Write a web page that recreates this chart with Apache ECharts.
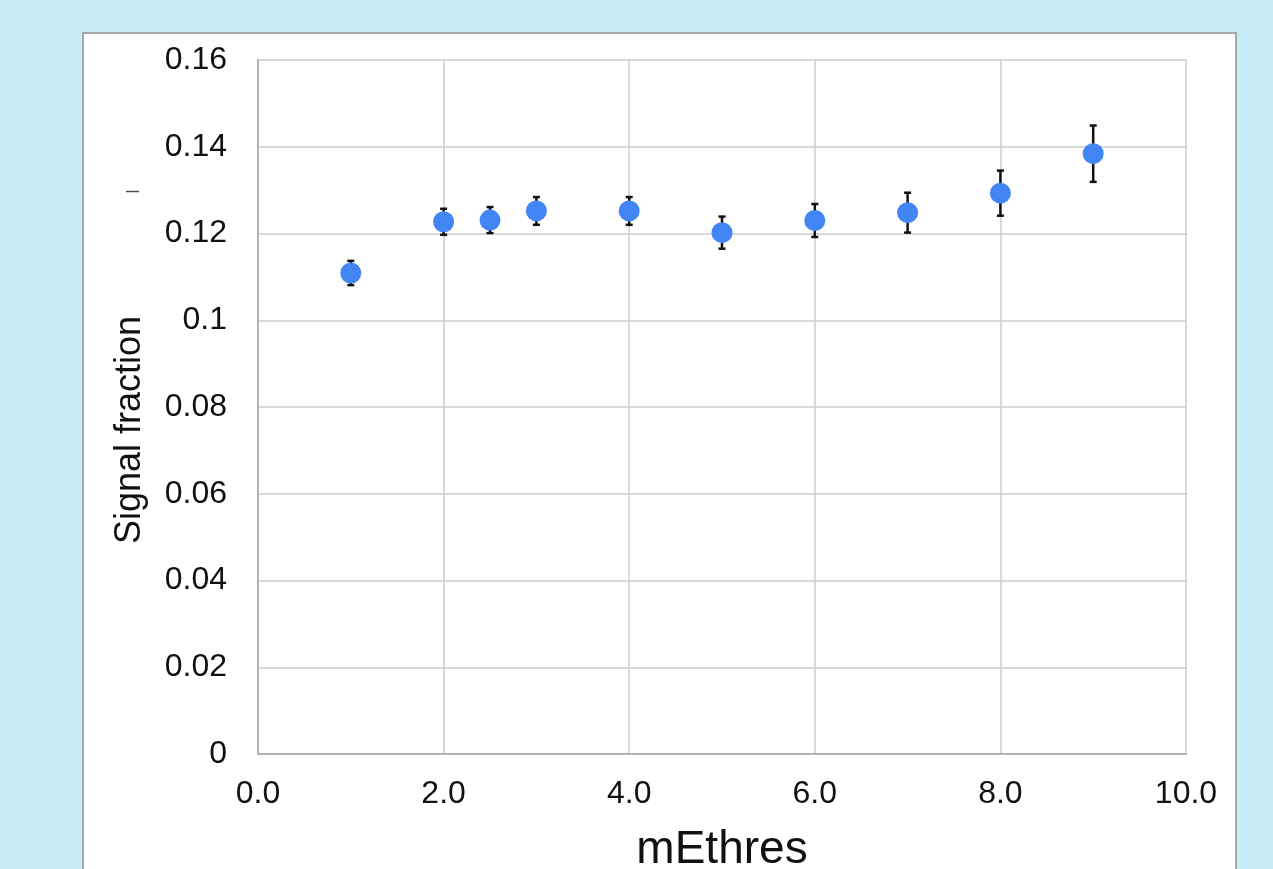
<!DOCTYPE html>
<html>
<head>
<meta charset="utf-8">
<title>Signal fraction vs mEthres</title>
<script src="https://cdn.jsdelivr.net/npm/echarts@6/dist/echarts.min.js"></script>
<style>
  html, body { margin: 0; padding: 0; background: #c8ecf5; }
  #chart { width: 1273px; height: 869px; }
</style>
</head>
<body>
<div id="chart"></div>
<script>
// data
const mEthres = [1, 2, 2.5, 3, 4, 5, 6, 7, 8, 9]
const signalFraction = [0.1109, 0.1227, 0.1231, 0.1252, 0.1252, 0.1202, 0.1230, 0.1248, 0.1293, 0.1384]
const fractionError = [0.0028, 0.0030, 0.0030, 0.0032, 0.0032, 0.0037, 0.0038, 0.0046, 0.0052, 0.0065]
const xTicks = { min: 0, max: 10, interval: 2 }
const yTicks = { min: 0, max: 0.16, interval: 0.02 }

const chart = echarts.init(document.getElementById('chart'))

const points = mEthres.map((x, i) => [x, signalFraction[i]])
const bars = mEthres.map((x, i) => [x, signalFraction[i] - fractionError[i], signalFraction[i] + fractionError[i]])

const labelFont = 'Liberation Sans, Arial, sans-serif'

const option = {
  backgroundColor: '#c8ecf5',
  animation: false,
  graphic: [
    {
      type: 'rect',
      z: -10,
      shape: { x: 83, y: 33, width: 1153, height: 860 },
      style: { fill: '#ffffff', stroke: '#a6a6a6', lineWidth: 2 }
    },
    {
      // small stray stroke left of the axis in the original
      type: 'line',
      z: -5,
      shape: { x1: 126, y1: 191.5, x2: 139, y2: 191.5 },
      style: { stroke: '#222', lineWidth: 1.5, opacity: 0.8 }
    }
  ],
  grid: {
    left: 258,
    top: 60,
    right: 87,
    bottom: 115,
    outerBoundsMode: 'none'
  },
  xAxis: {
    type: 'value',
    min: xTicks.min,
    max: xTicks.max,
    interval: xTicks.interval,
    name: 'mEthres',
    nameLocation: 'middle',
    nameGap: 73,
    nameTextStyle: { fontFamily: labelFont, fontSize: 46, color: '#111' },
    axisLine: { show: true, lineStyle: { color: '#b4b4b4', width: 2 } },
    axisTick: { show: false },
    splitLine: { show: true, lineStyle: { color: '#cccccc', width: 1.5 } },
    axisLabel: {
      margin: 24,
      fontFamily: labelFont,
      fontSize: 32,
      color: '#111',
      formatter: (v) => v.toFixed(1)
    }
  },
  yAxis: {
    type: 'value',
    min: yTicks.min,
    max: yTicks.max,
    interval: yTicks.interval,
    name: 'Signal fraction',
    nameLocation: 'middle',
    nameGap: 110,
    nameTextStyle: { fontFamily: labelFont, fontSize: 36, color: '#111', padding: [0, 46, 0, 0] },
    axisLine: { show: true, lineStyle: { color: '#b4b4b4', width: 2 } },
    axisTick: { show: false },
    splitLine: { show: true, lineStyle: { color: '#cccccc', width: 1.5 } },
    axisLabel: {
      margin: 31,
      fontFamily: labelFont,
      fontSize: 32,
      color: '#111',
      formatter: (v) => String(Math.round(v * 100) / 100)
    }
  },
  series: [
    {
      name: 'error',
      type: 'custom',
      z: 2,
      data: bars,
      renderItem: function (params, api) {
        const x = api.value(0)
        const lo = api.coord([x, api.value(1)])
        const hi = api.coord([x, api.value(2)])
        const cap = 3.5
        const style = { stroke: '#111', lineWidth: 2.5, fill: null }
        return {
          type: 'group',
          children: [
            { type: 'line', shape: { x1: lo[0], y1: lo[1], x2: hi[0], y2: hi[1] }, style: style },
            { type: 'line', shape: { x1: lo[0] - cap, y1: lo[1], x2: lo[0] + cap, y2: lo[1] }, style: style },
            { type: 'line', shape: { x1: hi[0] - cap, y1: hi[1], x2: hi[0] + cap, y2: hi[1] }, style: style }
          ]
        }
      }
    },
    {
      name: 'Signal fraction',
      type: 'scatter',
      z: 3,
      symbol: 'circle',
      symbolSize: 21,
      itemStyle: { color: '#4285f4', opacity: 1 },
      data: points
    }
  ]
}

chart.setOption(option)
</script>
</body>
</html>
